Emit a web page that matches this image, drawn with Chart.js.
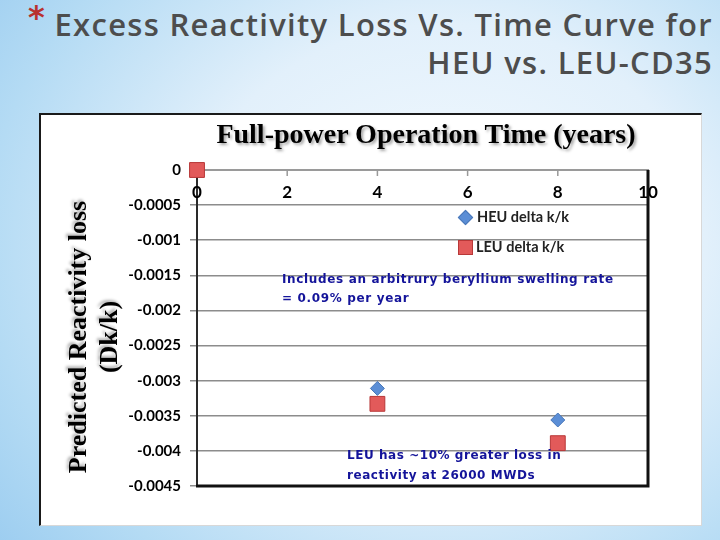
<!DOCTYPE html>
<html>
<head>
<meta charset="utf-8">
<script src="https://cdn.jsdelivr.net/npm/chart.js@4.4.1/dist/chart.umd.min.js"></script>
<style>
  html, body { margin: 0; padding: 0; }
  body {
    width: 720px; height: 540px; overflow: hidden; position: relative;
    background: radial-gradient(ellipse 80% 90% at 62% 45%, #f4faff 0%, #e2f0fb 45%, #b4dbf4 80%, #9ccdf0 100%);
    font-family: Lato, sans-serif;
  }
  .title { position: absolute; right: 7px; top: 5px; text-align: right; color: #4d4d4d;
    font-family: "Open Sans", sans-serif; font-weight: 600; font-size: 31px; line-height: 38px; letter-spacing: 1.3px; }
  .star { position: absolute; left: 28px; top: -2px; color: #b8312f; font-size: 32px; font-weight: bold; font-family: "DejaVu Sans", sans-serif; }
  .box { position: absolute; left: 39px; top: 113px; width: 660px; height: 410px; background: #fff;
    border-top: 2px solid #1a1a1a; border-left: 2px solid #1a1a1a; border-right: 1px solid #d8d8d8; border-bottom: 1px solid #d8d8d8; }
  canvas { position: absolute; left: 0; top: 0; }
  .xtitle { position: absolute; left: 0; width: 852px; top: 118px; text-align: center;
    font-family: "Liberation Serif", serif; font-weight: bold; font-size: 28px;
    text-shadow: 2px 2px 3px rgba(0,0,0,0.35); }
  .ytitle { position: absolute; left: 93px; top: 337px; width: 320px; transform: translate(-50%, -50%) rotate(-90deg);
    text-align: center; font-family: "Liberation Serif", serif; font-weight: bold; font-size: 26px; line-height: 31px;
    text-shadow: 2px -2px 3px rgba(0,0,0,0.3); }
  .legend { position: absolute; left: 458px; font-family: Lato, sans-serif; font-weight: bold; font-size: 14.5px; color: #222; }
  .legend span.mk { display: inline-block; vertical-align: middle; margin-right: 3px; }
  .note { position: absolute; color: #14149a; font-family: "DejaVu Sans", sans-serif; font-size: 12px; font-weight: bold; }
</style>
</head>
<body>
<div class="star">*</div>
<div class="title">Excess Reactivity Loss Vs. Time Curve for<br>HEU vs. LEU-CD35</div>
<div class="box"></div>
<canvas id="myChart" width="720" height="540"></canvas>
<div class="xtitle">Full-power Operation Time (years)</div>
<div class="ytitle">Predicted Reactivity loss<br>(Dk/k)</div>
<div class="legend" id="leg1" style="top:208px"></div>
<div class="legend" id="leg2" style="top:238px"></div>
<div class="note" style="left:282px; top:270px; letter-spacing:0.65px; line-height:19px;">Includes an arbitrury beryllium swelling rate<br>= 0.09% per year</div>
<div class="note" style="left:347px; top:445px; letter-spacing:0.55px; line-height:20px;">LEU has ~10% greater loss in<br>reactivity at 26000 MWDs</div>
<script>
// Data
var years = [0, 4, 8];
var heuLoss = [0, -0.00311, -0.00356];
var leuLoss = [0, -0.00333, -0.00389];
var seriesNames = ['HEU delta k/k', 'LEU delta k/k'];
var xTicks = [0, 2, 4, 6, 8, 10];
var yTicks = [0, -0.0005, -0.001, -0.0015, -0.002, -0.0025, -0.003, -0.0035, -0.004, -0.0045];

function points(ys) {
  return years.map(function (x, i) { return { x: x, y: ys[i] }; });
}

// Legend boxes (outside the canvas so they can sit inside the plot)
document.getElementById('leg1').innerHTML =
  '<span class="mk" style="width:9px;height:9px;background:#5b8ed6;border:1px solid #4a78b8;transform:rotate(45deg);margin:0 6px 2px 2px"></span>' + seriesNames[0];
document.getElementById('leg2').innerHTML =
  '<span class="mk" style="width:13px;height:13px;background:#e25a5a;border:1px solid #b83838;margin:0 3px 2px 0"></span>' + seriesNames[1];

// Frame lines, inner x ticks and x labels under the top axis line
var frame = {
  id: 'frame',
  afterDraw: function (chart) {
    var ctx = chart.ctx, a = chart.chartArea, x = chart.scales.x;
    ctx.save();
    ctx.strokeStyle = '#111';
    ctx.lineWidth = 3;
    ctx.beginPath();
    ctx.moveTo(a.right, a.top);
    ctx.lineTo(a.right, a.bottom);
    ctx.lineTo(a.left - 1, a.bottom);
    ctx.stroke();

    ctx.strokeStyle = '#999';
    ctx.lineWidth = 1.5;
    ctx.fillStyle = '#000';
    ctx.font = 'bold 17px Lato';
    ctx.textAlign = 'center';
    ctx.textBaseline = 'middle';
    xTicks.forEach(function (v) {
      var px = x.getPixelForValue(v);
      if (v > 0 && v < 10) {
        ctx.beginPath();
        ctx.moveTo(px, a.top);
        ctx.lineTo(px, a.top + 6);
        ctx.stroke();
      }
      ctx.fillText(String(v), px, a.top + 23);
    });
    ctx.restore();
  }
};

var ctx = document.getElementById('myChart').getContext('2d');

var data = {
  datasets: [
    {
      label: seriesNames[0],
      data: points(heuLoss),
      pointStyle: 'rectRot',
      pointRadius: 7,
      backgroundColor: '#5b8ed6',
      borderColor: '#4a78b8',
      borderWidth: 1,
      order: 1,
    },
    {
      label: seriesNames[1],
      data: points(leuLoss),
      pointStyle: 'rect',
      pointRadius: 10.5,
      backgroundColor: '#e25a5a',
      borderColor: '#b83838',
      borderWidth: 1,
      order: 0,
    },
  ],
};

var options = {
  responsive: false,
  animation: false,
  clip: false,
  layout: { padding: { left: 40, top: 170, right: 72, bottom: 54 } },
  plugins: { legend: { display: false }, tooltip: { enabled: false } },
  scales: {
    x: {
      type: 'linear',
      position: 'top',
      min: 0,
      max: 10,
      afterFit: function (s) { s.height = 0; },
      ticks: { display: false },
      grid: { display: false },
      border: { display: true, color: '#9a9a9a', width: 2 },
    },
    y: {
      type: 'linear',
      min: -0.0045,
      max: 0,
      afterFit: function (s) { s.width = 157; },
      afterBuildTicks: function (s) { s.ticks = yTicks.map(function (v) { return { value: v }; }); },
      ticks: {
        color: '#000',
        font: { family: 'Lato', weight: 'bold', size: 15 },
        padding: 9,
        callback: function (v) { return String(+v.toFixed(4)); },
      },
      grid: { color: '#8c8c8c', lineWidth: 1.5, tickLength: 7 },
      border: { color: '#2a2a2a', width: 2 },
    },
  },
};

var myChart = new Chart(ctx, {
  type: 'scatter',
  data: data,
  options: options,
  plugins: [frame],
});
</script>
</body>
</html>
